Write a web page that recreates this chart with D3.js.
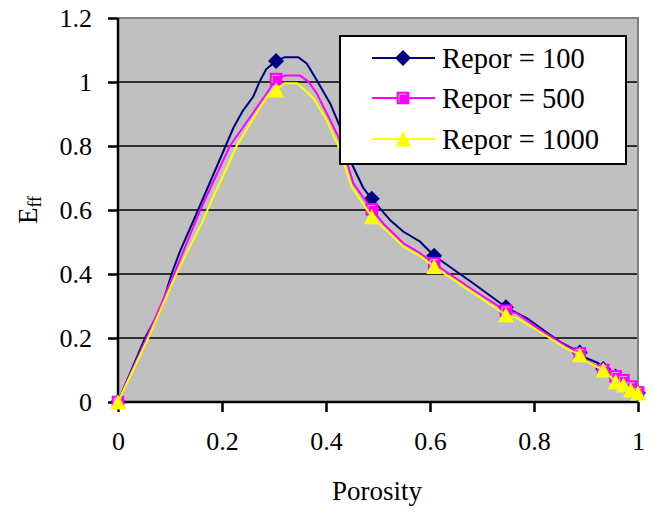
<!DOCTYPE html>
<html><head><meta charset="utf-8">
<script src="https://cdn.jsdelivr.net/npm/d3@7"></script>
<style>body{margin:0;background:#fff}text{font-family:"Liberation Serif","Times New Roman",serif;fill:#000}</style>
</head><body><svg id="c" width="654" height="514"></svg>
<script>
const xTicks=[0,0.2,0.4,0.6,0.8,1];
const yTicks=[0,0.2,0.4,0.6,0.8,1,1.2];
const xTickLabels=["0","0.2","0.4","0.6","0.8","1"];
const yTickLabels=["0","0.2","0.4","0.6","0.8","1","1.2"];
const seriesNames=["Repor = 100","Repor = 500","Repor = 1000"];
const seriesColors=["#000080","#FF00FF","#FFFF00"];
// line vertices (porosity, Eff)
const line100=[[0,0],[0.052,0.2],[0.084,0.298],[0.103,0.4],[0.119,0.47],[0.154,0.6],[0.207,0.8],[0.222,0.857],[0.24,0.91],[0.26,0.954],[0.272,1.0],[0.285,1.04],[0.304,1.066],[0.32,1.077],[0.347,1.077],[0.363,1.058],[0.382,1.006],[0.408,0.933],[0.427,0.86],[0.449,0.746],[0.472,0.668],[0.488,0.635],[0.523,0.569],[0.549,0.532],[0.581,0.501],[0.608,0.457],[0.683,0.371],[0.746,0.296],[0.786,0.262],[0.818,0.225],[0.85,0.188],[0.888,0.155],[0.901,0.137],[0.924,0.121],[0.933,0.103],[0.957,0.08],[0.972,0.062],[0.986,0.042],[1.0,0.028]];
const line500=[[0,0],[0.055,0.2],[0.108,0.4],[0.158,0.6],[0.215,0.8],[0.257,0.897],[0.286,0.965],[0.304,1.009],[0.321,1.02],[0.35,1.02],[0.366,1.001],[0.382,0.965],[0.408,0.881],[0.43,0.808],[0.4525,0.683],[0.488,0.602],[0.51,0.558],[0.549,0.496],[0.581,0.465],[0.608,0.433],[0.626,0.4125],[0.683,0.35],[0.746,0.285],[0.767,0.277],[0.812,0.225],[0.863,0.173],[0.888,0.152],[0.9,0.131],[0.933,0.1],[0.957,0.08],[0.972,0.068],[0.986,0.048],[1.0,0.03]];
const line1000=[[0,0],[0.058,0.2],[0.112,0.4],[0.164,0.569],[0.172,0.6],[0.228,0.8],[0.27,0.9125],[0.289,0.959],[0.304,0.975],[0.32,0.996],[0.345,0.996],[0.376,0.949],[0.401,0.881],[0.424,0.798],[0.449,0.673],[0.488,0.579],[0.51,0.545],[0.549,0.485],[0.581,0.456],[0.608,0.423],[0.683,0.34],[0.746,0.272],[0.767,0.262],[0.805,0.225],[0.86,0.17],[0.888,0.147],[0.9,0.128],[0.933,0.1],[0.957,0.063],[0.972,0.053],[0.986,0.0375],[1.0,0.028]];
// marker points
const markerX=[0,0.304,0.488,0.608,0.746,0.888,0.933,0.957,0.972,0.986,1.0];
const marker100=[0,1.066,0.635,0.457,0.296,0.155,0.103,0.08,0.062,0.042,0.028];
const marker500=[0,1.009,0.602,0.433,0.285,0.152,0.1,0.08,0.068,0.048,0.03];
const marker1000=[0,0.975,0.579,0.423,0.272,0.147,0.1,0.063,0.053,0.0375,0.028];

const svg=d3.select("#c");
const L=118,R=638,T=18,B=402;
const x=d3.scaleLinear().domain([0,1]).range([L,R]);
const y=d3.scaleLinear().domain([0,1.2]).range([B,T]);

svg.append("rect").attr("x",L).attr("y",T).attr("width",R-L).attr("height",B-T).attr("fill","#C0C0C0");
// gridlines
svg.append("g").selectAll("line").data(yTicks.filter(d=>d>0&&d<1.2)).join("line")
 .attr("x1",L).attr("x2",R).attr("y1",d=>y(d)).attr("y2",d=>y(d)).attr("stroke","#000").attr("stroke-width",1.5);
// top/right border
svg.append("path").attr("d",`M${L},${T}H${R}V${B}`).attr("fill","none").attr("stroke","#808080").attr("stroke-width",2);

// axes
const yAxis=d3.axisLeft(y).tickValues(yTicks).tickFormat((d,i)=>yTickLabels[i]).tickSize(10).tickPadding(16);
const gy=svg.append("g").attr("transform",`translate(${L},0)`).call(yAxis);
const xAxis=d3.axisBottom(x).tickValues(xTicks).tickFormat((d,i)=>xTickLabels[i]).tickSize(10).tickPadding(20);
const gx=svg.append("g").attr("transform",`translate(0,${B})`).call(xAxis);
[gx,gy].forEach(g=>{g.select(".domain").attr("stroke","#000").attr("stroke-width",2.5);
 g.selectAll(".tick line").attr("stroke","#000").attr("stroke-width",2.5);
 g.selectAll(".tick text").attr("font-size",26).attr("font-family","Liberation Serif").attr("fill","#000");});
gy.select(".domain").attr("d",`M0,${T}V${B}`);
gx.select(".domain").attr("d",`M${L},0H${R}`);

const lines=[line100,line500,line1000];
const markers=[marker100,marker500,marker1000];
const lineGen=d3.line().x(d=>x(d[0])).y(d=>y(d[1]));
function drawMarker(g,i,cx,cy){
 const c=seriesColors[i];
 if(i===0){const s=8;g.append("path").attr("d",`M${cx},${cy-s}L${cx+s},${cy}L${cx},${cy+s}L${cx-s},${cy}Z`).attr("fill",c);}
 else if(i===1){const s=6.3;g.append("rect").attr("x",cx-s).attr("y",cy-s).attr("width",2*s).attr("height",2*s).attr("fill",c);
  g.append("path").attr("d",`M${cx-s+2.5},${cy+s-2.5}V${cy-s+2.5}H${cx+s-2.5}`).attr("fill","none").attr("stroke","#FFC0FF").attr("stroke-width",0.8);}
 else {const s=7.8;g.append("path").attr("d",`M${cx},${cy-s}L${cx+s},${cy+s*0.95}L${cx-s},${cy+s*0.95}Z`).attr("fill",c);}
}
lines.forEach((ln,i)=>{
 const g=svg.append("g");
 g.append("path").attr("d",lineGen(ln)).attr("fill","none").attr("stroke",seriesColors[i]).attr("stroke-width",2).attr("stroke-linejoin","round");
 markerX.forEach((mx,j)=>drawMarker(g,i,x(mx),y(markers[i][j])));
});

// legend
const lg=svg.append("g");
lg.append("rect").attr("x",340).attr("y",36).attr("width",286).attr("height",128).attr("fill","#fff").attr("stroke","#000").attr("stroke-width",2);
const rowY=[58,98,139];
seriesNames.forEach((n,i)=>{
 lg.append("line").attr("x1",372).attr("x2",435).attr("y1",rowY[i]).attr("y2",rowY[i]).attr("stroke",seriesColors[i]).attr("stroke-width",2);
 drawMarker(lg,i,403,rowY[i]);
 lg.append("text").attr("x",442).attr("y",rowY[i]+10).attr("font-size",28.5).text(n);
});

// axis titles
svg.append("text").attr("x",377).attr("y",500).attr("text-anchor","middle").attr("font-size",27).text("Porosity");
const yt=svg.append("text").attr("transform","translate(37,210) rotate(-90)").attr("text-anchor","middle").attr("font-size",27);
yt.append("tspan").text("E");
yt.append("tspan").attr("font-size",18).attr("dy",4).text("ff");
</script></body></html>
